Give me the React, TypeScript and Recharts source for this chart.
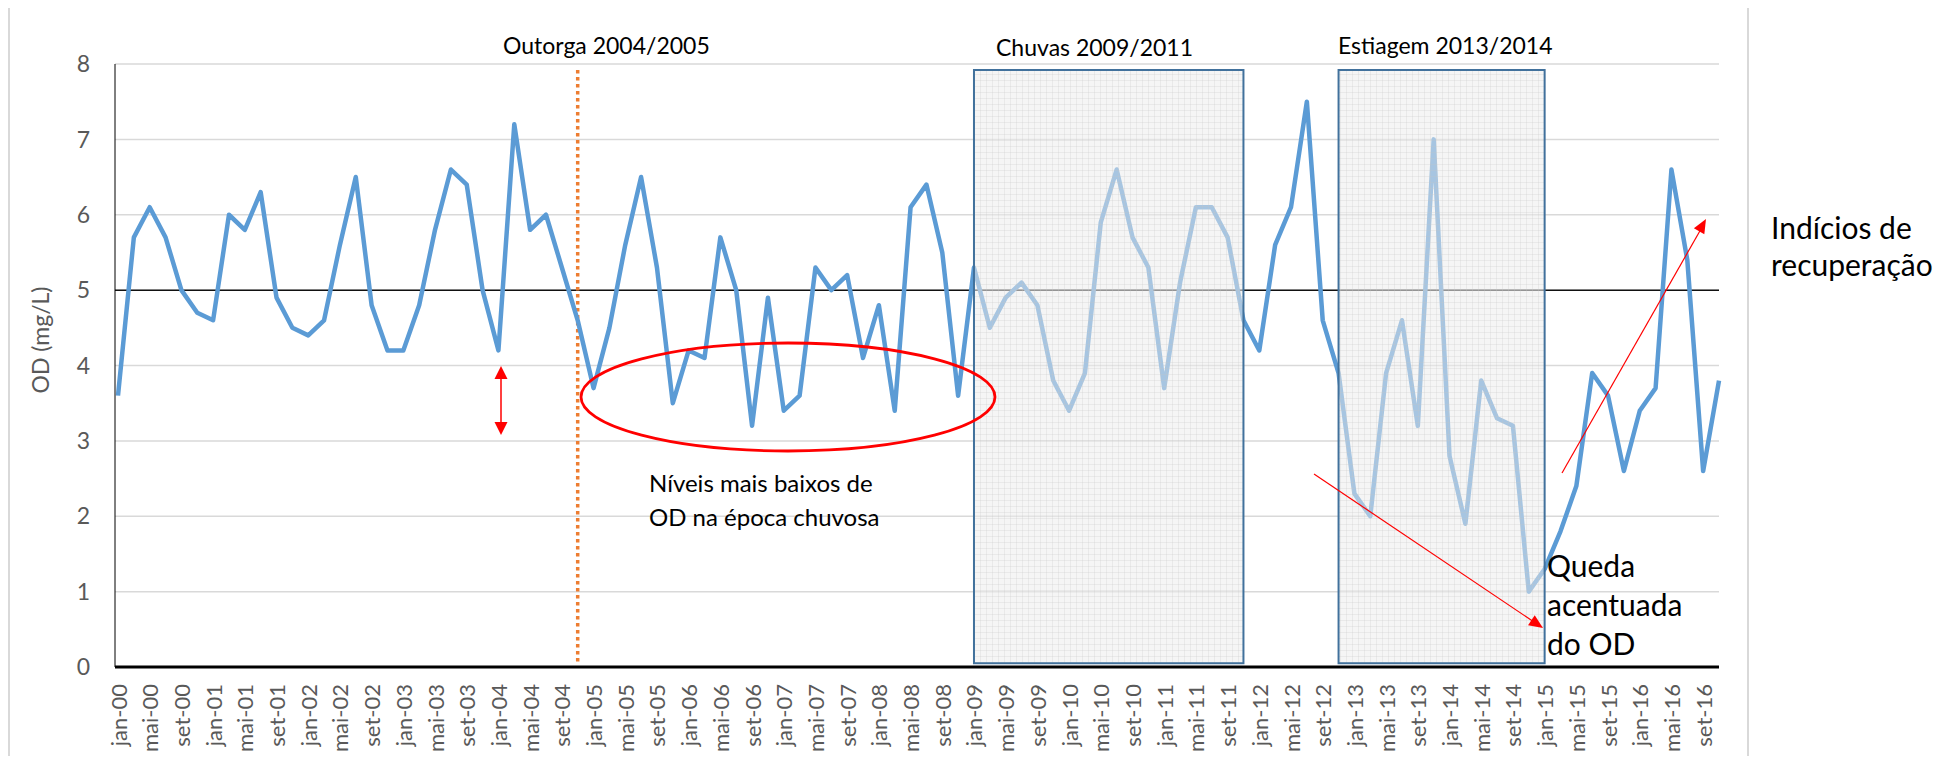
import React from 'react';
import { LineChart, Line, XAxis, YAxis, CartesianGrid, ReferenceLine, ReferenceArea } from 'recharts';

// bimonthly samples, jan-00 .. nov-16
const months = ['jan', 'mar', 'mai', 'jul', 'set', 'nov'];
const years = ['00', '01', '02', '03', '04', '05', '06', '07', '08', '09', '10', '11', '12', '13', '14', '15', '16'];

// OD (mg/L), six values per year
const odValues = [
  3.6, 5.7, 6.1, 5.7, 5.0, 4.7,
  4.6, 6.0, 5.8, 6.3, 4.9, 4.5,
  4.4, 4.6, 5.6, 6.5, 4.8, 4.2,
  4.2, 4.8, 5.8, 6.6, 6.4, 5.0,
  4.2, 7.2, 5.8, 6.0, 5.3, 4.6,
  3.7, 4.5, 5.6, 6.5, 5.3, 3.5,
  4.2, 4.1, 5.7, 5.0, 3.2, 4.9,
  3.4, 3.6, 5.3, 5.0, 5.2, 4.1,
  4.8, 3.4, 6.1, 6.4, 5.5, 3.6,
  5.3, 4.5, 4.9, 5.1, 4.8, 3.8,
  3.4, 3.9, 5.9, 6.6, 5.7, 5.3,
  3.7, 5.1, 6.1, 6.1, 5.7, 4.6,
  4.2, 5.6, 6.1, 7.5, 4.6, 3.9,
  2.3, 2.0, 3.9, 4.6, 3.2, 7.0,
  2.8, 1.9, 3.8, 3.3, 3.2, 1.0,
  1.3, 1.8, 2.4, 3.9, 3.6, 2.6,
  3.4, 3.7, 6.6, 5.4, 2.6, 3.8,
];

const yTicks = [0, 1, 2, 3, 4, 5, 6, 7, 8];
const limitOD = 5;
const outorgaMark = 'nov-04';
const periods = [
  { from: 'jan-09', to: 'nov-11', title: 'Chuvas 2009/2011' },
  { from: 'nov-12', to: 'jan-15', title: 'Estiagem 2013/2014' },
];

const categories = years.flatMap((y) => months.map((m) => `${m}-${y}`));
const data = categories.map((label, i) => ({ label, od: odValues[i] }));

const FONT = 'Lato, Carlito, Calibri, sans-serif';
const GREY = '#595959';

const XTick = ({ x, y, payload }: any) => (
  <text
    x={x}
    y={y + 17}
    transform={`rotate(-90, ${x}, ${y + 17})`}
    textAnchor="end"
    dominantBaseline="central"
    fontSize={22}
    fontFamily={FONT}
    fill={GREY}
  >
    {payload.value}
  </text>
);

// arrow head polygon pointing at (x2, y2)
const head = (x1: number, y1: number, x2: number, y2: number, len = 13, half = 6) => {
  const d = Math.hypot(x2 - x1, y2 - y1);
  const ux = (x2 - x1) / d;
  const uy = (y2 - y1) / d;
  const bx = x2 - ux * len;
  const by = y2 - uy * len;
  return `${x2},${y2} ${bx - uy * half},${by + ux * half} ${bx + uy * half},${by - ux * half}`;
};

const Overlay = () => (
  <svg
    width={1941}
    height={748}
    style={{ position: 'absolute', left: 0, top: 0, overflow: 'visible', pointerEvents: 'none' }}
  >
    <g transform="translate(-8,-8)" fontFamily={FONT}>
      {/* chart frame */}
      <path d="M9 770 L9 7 L1748 7 L1748 770" fill="none" stroke="#d9d9d9" strokeWidth={2} />

      <text x={40} y={340} transform="rotate(-90, 40, 340)" textAnchor="middle" dominantBaseline="central" fontSize={23} fill={GREY}>
        OD (mg/L)
      </text>

      <text x={503} y={45} dominantBaseline="central" fontSize={23} fill="#000">Outorga 2004/2005</text>
      <text x={996} y={47} dominantBaseline="central" fontSize={23} fill="#000">Chuvas 2009/2011</text>
      <text x={1338} y={45} dominantBaseline="central" fontSize={23} fill="#000">Estiagem 2013/2014</text>

      <text x={649} y={482} dominantBaseline="central" fontSize={24} fill="#000">Níveis mais baixos de</text>
      <text x={649} y={516} dominantBaseline="central" fontSize={24} fill="#000">OD na época chuvosa</text>

      <text x={1771} y={227} dominantBaseline="central" fontSize={30} fill="#000">Indícios de</text>
      <text x={1771} y={264} dominantBaseline="central" fontSize={30} fill="#000">recuperação</text>

      <text x={1547} y={565} dominantBaseline="central" fontSize={30} fill="#000">Queda</text>
      <text x={1547} y={604} dominantBaseline="central" fontSize={30} fill="#000">acentuada</text>
      <text x={1547} y={643} dominantBaseline="central" fontSize={30} fill="#000">do OD</text>

      {/* low-level ellipse */}
      <ellipse cx={788} cy={397} rx={207} ry={54} fill="none" stroke="#ff0000" strokeWidth={2.8} />

      {/* double arrow below jan-04 */}
      <line x1={501} y1={376} x2={501} y2={425} stroke="#ff0000" strokeWidth={1.5} />
      <polygon points={head(501, 400, 501, 366, 13, 6.5)} fill="#ff0000" />
      <polygon points={head(501, 400, 501, 435, 13, 6.5)} fill="#ff0000" />

      {/* decline arrow */}
      <line x1={1314} y1={474} x2={1534} y2={622} stroke="#ff0000" strokeWidth={1.2} />
      <polygon points={head(1314, 474, 1543, 628, 14, 6)} fill="#ff0000" />

      {/* recovery arrow */}
      <line x1={1562} y1={473} x2={1701} y2={229} stroke="#ff0000" strokeWidth={1.2} />
      <polygon points={head(1562, 473, 1706, 219, 14, 6)} fill="#ff0000" />
    </g>
  </svg>
);

export default function App() {
  return (
    <div style={{ position: 'relative', width: 1941, height: 748, background: '#fff' }}>
      <svg width={0} height={0} style={{ position: 'absolute' }}>
        <defs>
          <pattern id="smallGrid" width={6} height={6} patternUnits="userSpaceOnUse">
            <rect width={6} height={6} fill="rgb(236,236,236)" fillOpacity={0.52} />
            <path d="M6 0 L0 0 0 6" fill="none" stroke="rgb(200,200,200)" strokeOpacity={0.5} strokeWidth={1} />
          </pattern>
        </defs>
      </svg>
      <LineChart
        width={1740}
        height={748}
        data={data}
        margin={{ top: 56, right: 29, left: 0, bottom: 0 }}
        style={{ position: 'absolute', left: 0, top: 0 }}
      >
        <CartesianGrid vertical={false} stroke="#d9d9d9" strokeWidth={1.5} />
        <XAxis
          dataKey="label"
          interval={1}
          tickLine={false}
          tickSize={0}
          tickMargin={0}
          axisLine={{ stroke: '#000', strokeWidth: 3 }}
          padding={{ left: 3, right: 0 }}
          height={89}
          tick={<XTick />}
        />
        <YAxis
          domain={[0, 8]}
          ticks={yTicks}
          width={107}
          tickLine={false}
          tickSize={0}
          tickMargin={25}
          axisLine={{ stroke: '#000', strokeWidth: 1 }}
          tick={{ fill: GREY, fontSize: 23, fontFamily: FONT }}
        />
        <ReferenceLine y={limitOD} stroke="#111" strokeWidth={1.5} />
        <ReferenceLine
          segment={[{ x: outorgaMark, y: 7.92 }, { x: outorgaMark, y: 0.07 }]}
          stroke="#ED7D31"
          strokeWidth={3.5}
          strokeDasharray="3.5 3.5"
        />
        <Line
          type="linear"
          dataKey="od"
          stroke="#5B9BD5"
          strokeWidth={4.5}
          strokeLinejoin="round"
          dot={false}
          isAnimationActive={false}
        />
        {periods.map((p) => (
          <ReferenceArea
            key={p.title}
            x1={p.from}
            x2={p.to}
            y1={0.05}
            y2={7.92}
            fill="url(#smallGrid)"
            fillOpacity={1}
            stroke="#41719C"
            strokeWidth={2}
            zIndex={450}
          />
        ))}
      </LineChart>
      <Overlay />
    </div>
  );
}
